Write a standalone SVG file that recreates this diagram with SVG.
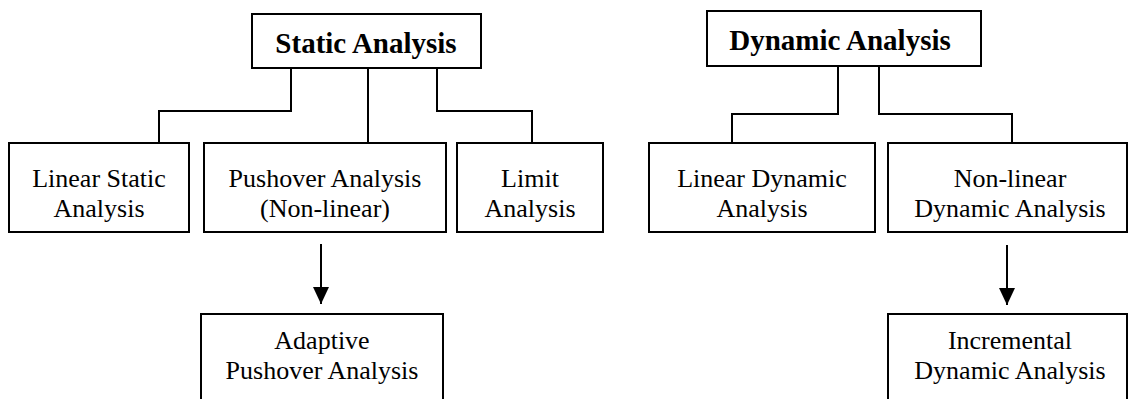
<svg xmlns="http://www.w3.org/2000/svg" width="1129" height="399" viewBox="0 0 1129 399">
<style>
  .box{fill:#fff;stroke:#000;stroke-width:2}
  .t{font-family:"Liberation Serif","Times New Roman",serif;font-size:26px;fill:#000;text-anchor:middle}
  .b{font-family:"Liberation Serif","Times New Roman",serif;font-size:29px;font-weight:bold;fill:#000;text-anchor:middle}
  .c{fill:none;stroke:#000;stroke-width:2}
</style>
<defs>
  <marker id="ah" markerUnits="userSpaceOnUse" markerWidth="18" markerHeight="16" refX="17" refY="8" orient="auto">
    <path d="M0,0 L17,8 L0,16 Z" fill="#000"/>
  </marker>
</defs>
<rect width="1129" height="399" fill="#fff"/>
<g id="connectors">
  <path class="c" d="M291,68 V111 H159 V143"/>
  <path class="c" d="M368,68 V143"/>
  <path class="c" d="M437,68 V111 H532 V143"/>
  <path class="c" d="M838,66 V114 H732 V143"/>
  <path class="c" d="M879,66 V114 H1012 V143"/>
  <path class="c" d="M321,244 V304" marker-end="url(#ah)"/>
  <path class="c" d="M1007,245 V305" marker-end="url(#ah)"/>
</g>
<g id="static">
  <rect class="box" x="252" y="14" width="229" height="54"/>
  <text class="b" x="366" y="53">Static Analysis</text>
</g>
<g id="linear-static">
  <rect class="box" x="9" y="143" width="180" height="89"/>
  <text class="t" x="99" y="187">Linear Static</text>
  <text class="t" x="99" y="217">Analysis</text>
</g>
<g id="pushover">
  <rect class="box" x="204" y="143" width="242" height="89"/>
  <text class="t" x="325" y="187">Pushover Analysis</text>
  <text class="t" x="325" y="217">(Non-linear)</text>
</g>
<g id="limit">
  <rect class="box" x="457" y="143" width="146" height="89"/>
  <text class="t" x="530" y="187">Limit</text>
  <text class="t" x="530" y="217">Analysis</text>
</g>
<g id="adaptive">
  <rect class="box" x="201" y="314" width="242" height="100"/>
  <text class="t" x="322" y="349">Adaptive</text>
  <text class="t" x="322" y="379">Pushover Analysis</text>
</g>
<g id="dynamic">
  <rect class="box" x="707" y="11" width="274" height="55"/>
  <text class="b" x="840" y="50">Dynamic Analysis</text>
</g>
<g id="linear-dynamic">
  <rect class="box" x="649" y="143" width="226" height="89"/>
  <text class="t" x="762" y="187">Linear Dynamic</text>
  <text class="t" x="762" y="217">Analysis</text>
</g>
<g id="nonlinear-dynamic">
  <rect class="box" x="888" y="143" width="239" height="89"/>
  <text class="t" x="1010" y="187">Non-linear</text>
  <text class="t" x="1010" y="217">Dynamic Analysis</text>
</g>
<g id="incremental">
  <rect class="box" x="888" y="314" width="239" height="100"/>
  <text class="t" x="1010" y="349">Incremental</text>
  <text class="t" x="1010" y="379">Dynamic Analysis</text>
</g>
</svg>
